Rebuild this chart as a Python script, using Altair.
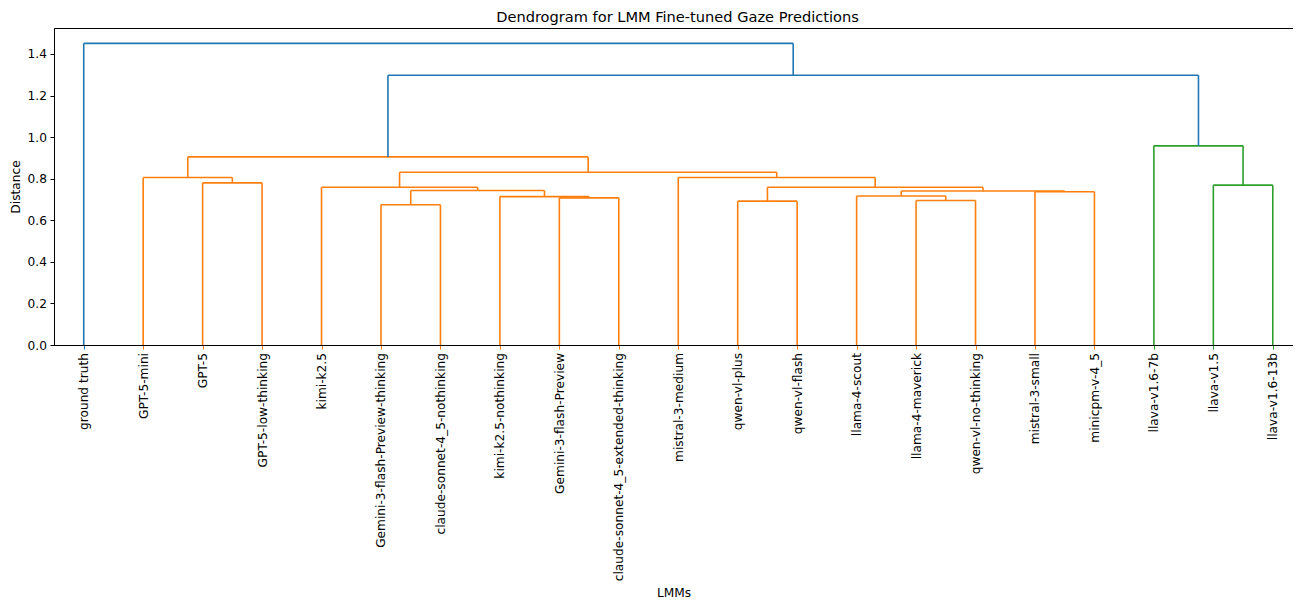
import altair as alt
import pandas as pd

# Leaf order (left to right)
leaves = [
    "ground truth", "GPT-5-mini", "GPT-5", "GPT-5-low-thinking", "kimi-k2.5",
    "Gemini-3-flash-Preview-thinking", "claude-sonnet-4_5-nothinking",
    "kimi-k2.5-nothinking", "Gemini-3-flash-Preview",
    "claude-sonnet-4_5-extended-thinking", "mistral-3-medium", "qwen-vl-plus",
    "qwen-vl-flash", "llama-4-scout", "llama-4-maverick", "qwen-vl-no-thinking",
    "mistral-3-small", "minicpm-v-4_5", "llava-v1.6-7b", "llava-v1.5",
    "llava-v1.6-13b",
]

# Merges: (cluster id, left child, right child, distance)
merge_ids = ["m1", "m2", "m3", "m4", "m5", "m6", "m7", "m8", "m9", "m10",
             "m11", "m12", "m13", "m14", "m15", "m16", "m17", "m18", "m19", "m20"]
merge_left = ["GPT-5", "GPT-5-mini", "Gemini-3-flash-Preview-thinking",
              "Gemini-3-flash-Preview", "kimi-k2.5-nothinking", "m3", "kimi-k2.5",
              "qwen-vl-plus", "llama-4-maverick", "llama-4-scout", "mistral-3-small",
              "m10", "m8", "mistral-3-medium", "m7", "m2", "llava-v1.5",
              "llava-v1.6-7b", "m16", "ground truth"]
merge_right = ["GPT-5-low-thinking", "m1", "claude-sonnet-4_5-nothinking",
               "claude-sonnet-4_5-extended-thinking", "m4", "m5", "m6",
               "qwen-vl-flash", "qwen-vl-no-thinking", "m9", "minicpm-v-4_5",
               "m11", "m12", "m13", "m14", "m15", "llava-v1.6-13b", "m17",
               "m18", "m19"]
merge_dist = [0.780, 0.806, 0.675, 0.708, 0.714, 0.743, 0.759, 0.692, 0.695,
              0.717, 0.737, 0.741, 0.759, 0.806, 0.831, 0.905, 0.769, 0.958,
              1.298, 1.451]

palette = ["#ff7f0e", "#2ca02c", "#d62728", "#9467bd"]
above_color = "#1f77b4"

# positions / heights of nodes
pos = {name: 5 + 10 * i for i, name in enumerate(leaves)}
height = {name: 0.0 for name in leaves}
children = {}
for mid, a, b, d in zip(merge_ids, merge_left, merge_right, merge_dist):
    pos[mid] = (pos[a] + pos[b]) / 2
    height[mid] = d
    children[mid] = (a, b)

threshold = 0.7 * max(merge_dist)

node_color = {}
def subtree(n):
    if n in children:
        a, b = children[n]
        return [n] + subtree(a) + subtree(b)
    return [n]

ci = 0
def assign(n):
    global ci
    if n in children and height[n] >= threshold:
        node_color[n] = above_color
        for c in children[n]:
            assign(c)
    elif n in children:
        col = palette[ci % len(palette)]
        ci += 1
        for s in subtree(n):
            node_color[s] = col
    else:
        node_color[n] = above_color

assign(merge_ids[-1])

rows = []
for mid in merge_ids:
    a, b = children[mid]
    col = node_color[mid]
    h = height[mid]
    rows.append(dict(x=pos[a], x2=pos[a], y=height[a], y2=h, c=col))
    rows.append(dict(x=pos[a], x2=pos[b], y=h, y2=h, c=col))
    rows.append(dict(x=pos[b], x2=pos[b], y=height[b], y2=h, c=col))
df = pd.DataFrame(rows)

label_arr = "[" + ",".join("'" + l + "'" for l in leaves) + "]"
tick_conditions = [
    {"test": f"datum.value == {pos[l]}", "value": node_color[l]}
    for l in leaves if node_color[l] != palette[0]
]

chart = alt.Chart(df).mark_rule(strokeWidth=1.6).encode(
    x=alt.X("x:Q", scale=alt.Scale(domain=[0, 208.4], nice=False, zero=False),
            axis=alt.Axis(
                title="LMMs", values=[pos[l] for l in leaves],
                labelExpr=f"{label_arr}[round((datum.value-5)/10)]",
                labelAngle=270, labelAlign="right", labelBaseline="middle",
                tickSize=4, labelPadding=3.5, grid=False, labelLimit=0,
                tickColor={"condition": tick_conditions, "value": palette[0]},
                tickWidth=1, titleY=241, titleBaseline="top",
                labelOverlap=False, labelBound=False,
            )),
    x2="x2:Q",
    y=alt.Y("y:Q", scale=alt.Scale(domain=[0, 1.525], nice=False),
            axis=alt.Axis(title="Distance", values=[0, 0.2, 0.4, 0.6, 0.8, 1.0, 1.2, 1.4],
                          format=".1f", tickSize=4, labelPadding=3.5, grid=False,
                          titlePadding=5)),
    y2="y2:Q",
    color=alt.Color("c:N", scale=None),
).properties(
    width=1239, height=317,
    title=alt.TitleParams("Dendrogram for LMM Fine-tuned Gaze Predictions",
                          fontSize=14.6, fontWeight="normal", font="DejaVu Sans",
                          color="#000", offset=3, dx=4),
    autosize=alt.AutoSizeParams(type="none"),
    padding={"left": 46, "top": 20, "right": 0, "bottom": 255},
    background="white",
).configure_axis(
    labelFont="DejaVu Sans", titleFont="DejaVu Sans", labelFontSize=12.2,
    titleFontSize=12.2, titleFontWeight="normal", labelColor="#000",
    titleColor="#000", domainColor="#000", domainWidth=1, tickColor="#000",
).configure_view(stroke="#000", strokeWidth=1)

chart.save("out.html", embed_options={"renderer": "svg", "actions": False})
